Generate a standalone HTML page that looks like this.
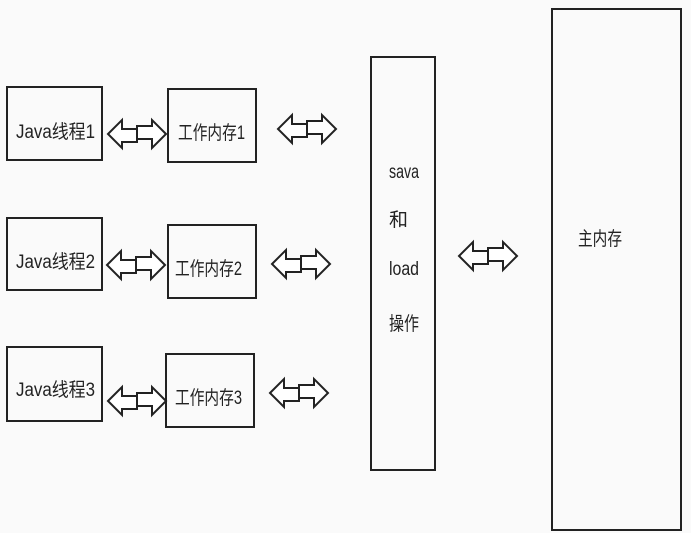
<!DOCTYPE html>
<html><head><meta charset="utf-8"><style>
body{margin:0;background:#fafafa;}
svg{display:block}
text{font-family:"Liberation Sans","Noto Sans CJK SC",sans-serif;font-size:19px;fill:#222}
</style></head><body>
<svg width="691" height="533" viewBox="0 0 691 533">
<defs>
<g id="arr" fill="#fff" stroke="#222" stroke-width="2">
<path d="M0,0 L14,-14 L14,-5 L29,-5 L29,8 L14,8 L14,14 Z"/>
<path d="M58,0 L44,-14 L44,-8 L29,-8 L29,5 L44,5 L44,14 Z"/>
</g>
</defs>
<g fill="none" stroke="#222" stroke-width="2">
<rect x="7" y="87" width="95" height="73"/>
<rect x="168" y="89" width="88" height="73"/>
<rect x="7" y="218" width="95" height="72"/>
<rect x="168" y="225" width="88" height="73"/>
<rect x="7" y="347" width="95" height="74"/>
<rect x="166" y="354" width="88" height="73"/>
<rect x="371" y="57" width="64" height="413"/>
<rect x="552" y="9" width="129" height="521"/>
</g>
<use href="#arr" x="108" y="134"/>
<use href="#arr" x="278" y="129"/>
<use href="#arr" x="107" y="265"/>
<use href="#arr" x="272" y="264"/>
<use href="#arr" x="108" y="401"/>
<use href="#arr" x="270" y="393"/>
<use href="#arr" x="459" y="256"/>
<text x="16" y="138" textLength="79" lengthAdjust="spacingAndGlyphs">Java线程1</text>
<text x="178" y="139" textLength="67" lengthAdjust="spacingAndGlyphs">工作内存1</text>
<text x="16" y="268" textLength="79" lengthAdjust="spacingAndGlyphs">Java线程2</text>
<text x="175" y="275" textLength="67" lengthAdjust="spacingAndGlyphs">工作内存2</text>
<text x="16" y="396" textLength="79" lengthAdjust="spacingAndGlyphs">Java线程3</text>
<text x="175" y="404" textLength="67" lengthAdjust="spacingAndGlyphs">工作内存3</text>
<text x="389" y="178" textLength="30" lengthAdjust="spacingAndGlyphs">sava</text>
<text x="389" y="226">和</text>
<text x="389" y="275" textLength="30" lengthAdjust="spacingAndGlyphs">load</text>
<text x="389" y="330" textLength="30" lengthAdjust="spacingAndGlyphs">操作</text>
<text x="578" y="245" textLength="44" lengthAdjust="spacingAndGlyphs">主内存</text>
</svg>
</body></html>
